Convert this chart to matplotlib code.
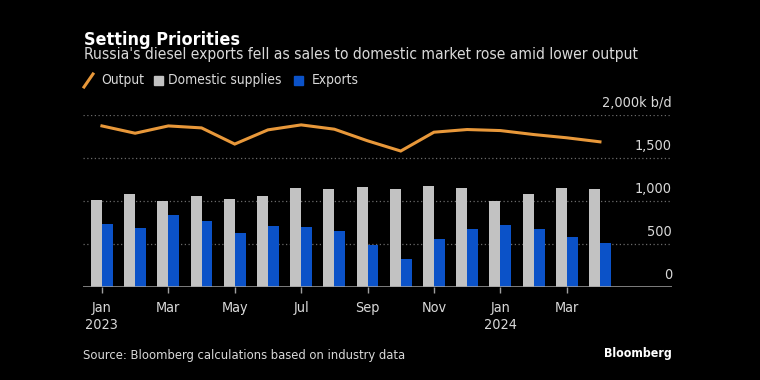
import matplotlib
matplotlib.use("Agg")
import matplotlib.pyplot as plt
from matplotlib import font_manager
from matplotlib.patches import Rectangle
from matplotlib.lines import Line2D
import numpy as np

months = ["Jan 2023", "Feb 2023", "Mar 2023", "Apr 2023", "May 2023", "Jun 2023",
          "Jul 2023", "Aug 2023", "Sep 2023", "Oct 2023", "Nov 2023", "Dec 2023",
          "Jan 2024", "Feb 2024", "Mar 2024", "Apr 2024"]
output = [1873, 1788, 1873, 1850, 1662, 1827, 1885, 1835, 1700, 1581, 1800, 1831,
          1819, 1773, 1735, 1688]
domestic = [1008, 1077, 996, 1054, 1019, 1054, 1154, 1138, 1162, 1142, 1177, 1154,
            1004, 1081, 1154, 1142]
exports = [731, 685, 835, 765, 623, 712, 700, 654, 492, 331, 554, 677,
           723, 669, 585, 512]
tick_labels = ["Jan\n2023", "Mar", "May", "Jul", "Sep", "Nov", "Jan\n2024", "Mar"]
y_ticks = [0, 500, 1000, 1500, 2000]
y_tick_labels = ["0", "500", "1,000", "1,500", "2,000k b/d"]

# pick a narrow font if one is installed
fl = font_manager.fontManager.ttflist
names = {f.name for f in fl}
stretch = "normal"
if any(f.name == "DejaVu Sans" and f.stretch == "condensed" for f in fl):
    FAM = ["DejaVu Sans"]
    stretch = "condensed"
else:
    FAM = None
    for cand in ["Liberation Sans Narrow", "Roboto Condensed", "Open Sans Condensed",
                 "Roboto", "Liberation Sans"]:
        if cand in names:
            FAM = [cand, "DejaVu Sans"]
            break
    if FAM is None:
        FAM = ["DejaVu Sans"]
plt.rcParams["font.family"] = FAM
plt.rcParams["font.stretch"] = stretch

BG = "black"
ORANGE = "#E8983A"
GRAY = "#C2C2C2"
BLUE = "#0B52C8"
TXT = "#D9D9D9"

W, H = 760, 380
fig = plt.figure(figsize=(7.6, 3.8), dpi=100, facecolor=BG)
renderer = fig.canvas.get_renderer()

def px(x, y):
    return x / W, 1 - y / H

def fit(t, target):
    w = t.get_window_extent(renderer).width
    t.set_fontsize(t.get_fontsize() * target / w)
    return t.get_fontsize()

ax = fig.add_axes([83 / W, 1 - 287 / H, (672 - 83) / W, (287 - 115) / H])
ax.set_facecolor(BG)

x = np.arange(len(months))
bw = 0.33
ax.bar(x - bw / 2, domestic, width=bw, color=GRAY, zorder=2, linewidth=0)
ax.bar(x + bw / 2, exports, width=bw, color=BLUE, zorder=2, linewidth=0)
ax.plot(x, output, color=ORANGE, linewidth=2.2, zorder=3, clip_on=False,
        solid_joinstyle="miter")

ax.set_xlim(-0.57, 17.17)
ax.set_ylim(0, 2000)

for v in y_ticks[1:]:
    ax.axhline(v, color="#6a6a6a", linewidth=0.9, linestyle=(0, (1, 2)), zorder=1)
ax.axhline(0, color="#a0a0a0", linewidth=1.1, zorder=4)

ylabs = []
for v, lab in zip(y_ticks, y_tick_labels):
    ylabs.append(ax.annotate(lab, xy=(1, v), xycoords=("axes fraction", "data"),
                             xytext=(0, 3.5), textcoords="offset points",
                             ha="right", va="bottom", color=TXT, fontsize=11))
fs_tick = fit(ylabs[-1], 69)
for t in ylabs:
    t.set_fontsize(fs_tick)

for s in ax.spines.values():
    s.set_visible(False)
ax.set_yticks([])
ax.set_xticks(x[::2])
ax.set_xticklabels(tick_labels, color=TXT, fontsize=fs_tick, linespacing=1.3)
ax.tick_params(axis="x", colors="#a0a0a0", length=4, width=1, pad=6, labelcolor=TXT)

# Title, subtitle
t = fig.text(*px(84, 40), "Setting Priorities", color="white", fontsize=13.5,
             fontweight="bold", va="center", ha="left")
fit(t, 155)
t = fig.text(*px(84, 55), "Russia's diesel exports fell as sales to domestic market rose amid lower output",
             color=TXT, fontsize=12.5, va="center", ha="left")
fit(t, 554)

# Legend
ly = 80
fig.add_artist(Line2D([84 / W, 93 / W], [1 - 87 / H, 1 - 74 / H], color=ORANGE,
                      linewidth=2.2, transform=fig.transFigure))
t1 = fig.text(*px(101, ly), "Output", color=TXT, fontsize=11.5, va="center", ha="left")
fig.add_artist(Rectangle(px(154, 85), 9 / W, 9 / H, color=GRAY, transform=fig.transFigure))
t2 = fig.text(*px(168, ly), "Domestic supplies", color=TXT, fontsize=11.5, va="center", ha="left")
fig.add_artist(Rectangle(px(294, 85), 9 / W, 9 / H, color=BLUE, transform=fig.transFigure))
t3 = fig.text(*px(312, ly), "Exports", color=TXT, fontsize=11.5, va="center", ha="left")
fs_leg = fit(t2, 113)
t1.set_fontsize(fs_leg)
t3.set_fontsize(fs_leg)

# Footer
t = fig.text(*px(83, 355), "Source: Bloomberg calculations based on industry data",
             color=TXT, fontsize=10.5, va="center", ha="left")
fit(t, 324)
t = fig.text(*px(672, 354), "Bloomberg", color="white", fontsize=11, fontweight="bold",
             va="center", ha="right")
fit(t, 68)

fig.savefig("out.png", dpi=100, facecolor=BG)
